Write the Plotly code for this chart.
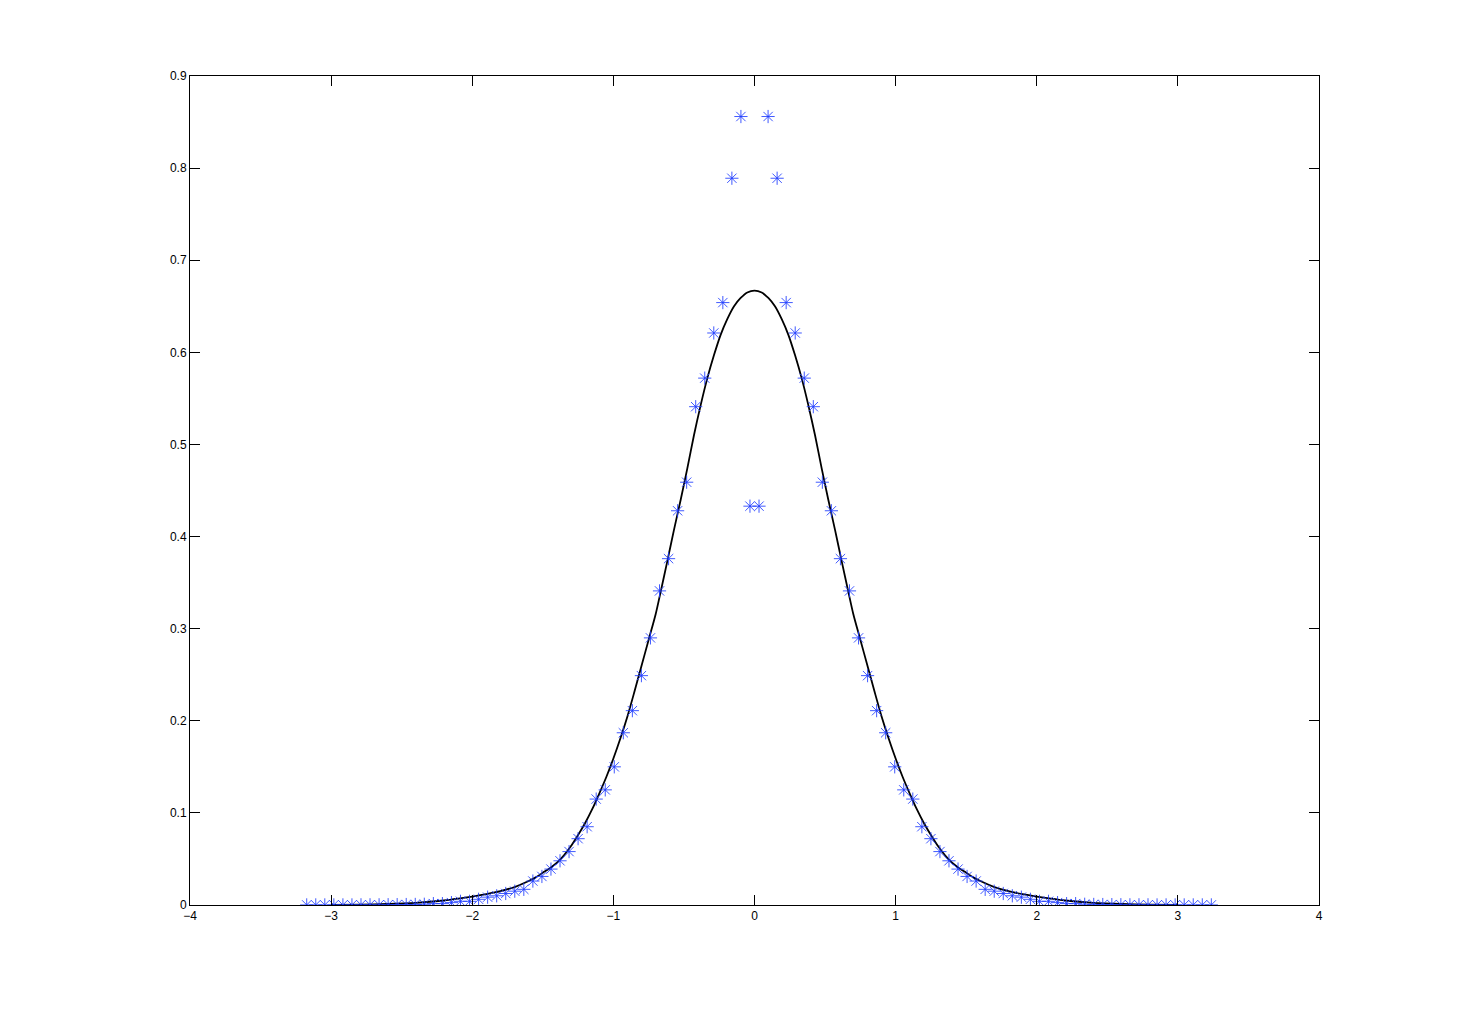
import plotly.graph_objects as go

# Sample grid (x positions of the starred samples)
h = 0.0641
star_k = list(range(-50, 51))  # indices; x = (k + 0.5) * h
star_x = [round((k + 0.5) * h, 4) for k in star_k]

# y values of the samples for the right half (k = 0..50)
right_vals = [0.433, 0.856, 0.789, 0.654, 0.621, 0.572, 0.541, 0.459, 0.428, 0.376,
              0.341, 0.290, 0.249, 0.211, 0.187, 0.150, 0.125, 0.115, 0.085, 0.072,
              0.058, 0.048, 0.039, 0.031, 0.026, 0.017, 0.015, 0.0125, 0.010, 0.0085,
              0.0062, 0.004, 0.004, 0.0026, 0.0015, 0.0015, 0.0008, 0.0006, 0.0005, 0.0004,
              0.0003, 0.0002, 0.0002, 0.0002, 0.0001, 0.0001, 0.0001, 0.0001, 0.0001, 0.0001,
              0.0001]
# left half (k = -50..-1), mirror image of the right half
left_vals = [0.0001, 0.0001, 0.0001, 0.0001, 0.0001, 0.0001, 0.0002, 0.0002, 0.0002, 0.0003,
             0.0004, 0.0005, 0.0006, 0.0008, 0.0015, 0.0015, 0.0026, 0.004, 0.004, 0.0062,
             0.0085, 0.010, 0.0125, 0.015, 0.017, 0.026, 0.031, 0.039, 0.048, 0.058,
             0.072, 0.085, 0.115, 0.125, 0.150, 0.187, 0.211, 0.249, 0.290, 0.341,
             0.376, 0.428, 0.459, 0.541, 0.572, 0.621, 0.654, 0.789, 0.856, 0.433]
star_y = left_vals + right_vals

# Smooth reference curve, read at selected points (symmetric about 0)
curve_x_right = [0.0, 0.051, 0.098, 0.145, 0.193, 0.240, 0.287, 0.334, 0.381, 0.429,
                 0.476, 0.523, 0.571, 0.618, 0.665, 0.70, 0.75, 0.80, 0.85, 0.90,
                 0.95, 1.00, 1.05, 1.10, 1.15, 1.20, 1.25, 1.30, 1.35, 1.40,
                 1.45, 1.50, 1.55, 1.60, 1.70, 1.80, 1.90, 2.00, 2.10, 2.20,
                 2.40, 2.60, 2.80, 3.00]
curve_y_right = [0.667, 0.665, 0.659, 0.650, 0.636, 0.619, 0.597, 0.572, 0.543, 0.510,
                 0.474, 0.440, 0.407, 0.373, 0.340, 0.316, 0.288, 0.260, 0.232, 0.205,
                 0.181, 0.159, 0.139, 0.121, 0.104, 0.089, 0.076, 0.064, 0.054, 0.046,
                 0.040, 0.035, 0.030, 0.026, 0.0195, 0.015, 0.0118, 0.0092, 0.0069, 0.0049,
                 0.0023, 0.0011, 0.0005, 0.0002]
curve_x = [-v for v in curve_x_right[:0:-1]] + curve_x_right
curve_y = curve_y_right[:0:-1] + curve_y_right

fig = go.Figure()
fig.add_trace(go.Scatter(x=curve_x, y=curve_y, mode="lines",
                         line=dict(color="black", width=1.8, shape="spline", smoothing=0.8),
                         showlegend=False, hoverinfo="skip"))
fig.add_trace(go.Scatter(x=star_x, y=star_y, mode="markers",
                         marker=dict(symbol="asterisk-open", size=11,
                                     color="rgba(30,60,255,0.85)",
                                     line=dict(color="rgba(30,60,255,0.85)", width=1.0)),
                         showlegend=False))

axis_font = dict(family="Liberation Sans, Arial, sans-serif", size=12, color="black")
fig.update_layout(
    width=1457, height=1017,
    paper_bgcolor="white", plot_bgcolor="white",
    margin=dict(l=182, r=146, t=68, b=120),
    xaxis=dict(range=[-4, 4], dtick=1, tick0=-4, showgrid=False, zeroline=False,
               showline=True, linecolor="black", linewidth=1, mirror="ticks",
               ticks="inside", ticklen=10, tickcolor="black", tickfont=axis_font),
    yaxis=dict(range=[0, 0.9], dtick=0.1, tick0=0, showgrid=False, zeroline=False,
               showline=True, linecolor="black", linewidth=1, mirror="ticks",
               ticks="inside", ticklen=10, tickcolor="black", tickfont=axis_font,
               tickformat=".1~f"),
)

fig.write_html("out.html")
